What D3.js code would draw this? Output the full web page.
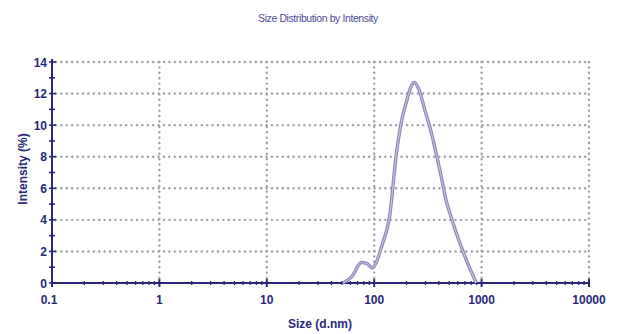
<!DOCTYPE html>
<html>
<head>
<meta charset="utf-8">
<script src="https://cdn.jsdelivr.net/npm/d3@7"></script>
<style>
    body { margin: 0; background: #fff; }
    svg { display: block; font-family: 'Liberation Sans', Arial, sans-serif; }
</style>
</head>
<body>
<svg id="chart"></svg>
<script>
// values
let sizes = [51, 62, 76, 87, 96, 106, 117, 139, 161, 179, 200, 219, 236, 263, 295, 335, 378, 422, 468, 525, 582, 646, 721, 803, 891];
let intensity = [0, 0.4, 1.3, 1.2, 0.95, 1.4, 2.3, 4.2, 8.2, 10.2, 11.5, 12.4, 12.7, 12.2, 11.0, 9.7, 8.2, 6.7, 5.2, 4.1, 3.15, 2.3, 1.45, 0.7, 0];
let xTicks = [0.1, 1, 10, 100, 1000, 10000];
let xTickLabels = ['0.1', '1', '10', '100', '1000', '10000'];
let yTicks = [0, 2, 4, 6, 8, 10, 12, 14];

let width = 633,
    height = 334;

let margin = {
    left: 52,
    right: 44,
    top: 62,
    bottom: 51
};

let navy = '#27277c';

let svg = d3.select('#chart')
    .attr('width', width)
    .attr('height', height);

let scaleX = d3.scaleLog()
    .domain([0.1, 10000])
    .range([margin.left, width - margin.right]);

let scaleY = d3.scaleLinear()
    .domain([0, 14])
    .range([height - margin.bottom, margin.top]);

// dotted grid
let grid = svg.append('g')
    .attr('stroke', '#9c9ca6')
    .attr('stroke-width', 2.4)
    .attr('stroke-linecap', 'round')
    .attr('stroke-dasharray', '0,5.4');

grid.selectAll('line.h')
    .data(yTicks.filter(d => d > 0))
    .enter()
    .append('line')
    .attr('class', 'h')
    .attr('x1', scaleX(0.1) + 4)
    .attr('x2', scaleX(10000))
    .attr('y1', d => scaleY(d))
    .attr('y2', d => scaleY(d));

grid.selectAll('line.v')
    .data(xTicks.filter(d => d > 0.1))
    .enter()
    .append('line')
    .attr('class', 'v')
    .attr('x1', d => scaleX(d))
    .attr('x2', d => scaleX(d))
    .attr('y1', scaleY(14))
    .attr('y2', scaleY(0) - 3);

// x axis
let minorX = [];
xTicks.slice(0, -1).forEach(t => {
    for (let k = 2; k < 10; k++) minorX.push(t * k);
});

let xAxisG = svg.append('g')
    .attr('transform', `translate(0, ${scaleY(0)})`);

xAxisG.append('line')
    .attr('x1', scaleX(0.1))
    .attr('x2', scaleX(10000))
    .attr('stroke', navy)
    .attr('stroke-width', 2);

xAxisG.selectAll('line.minor')
    .data(minorX)
    .enter()
    .append('line')
    .attr('class', 'minor')
    .attr('x1', d => scaleX(d))
    .attr('x2', d => scaleX(d))
    .attr('y1', -2)
    .attr('y2', 2)
    .attr('stroke', navy)
    .attr('stroke-width', 1.3);

xAxisG.selectAll('line.major')
    .data(xTicks)
    .enter()
    .append('line')
    .attr('class', 'major')
    .attr('x1', d => scaleX(d))
    .attr('x2', d => scaleX(d))
    .attr('y1', -4)
    .attr('y2', 4)
    .attr('stroke', navy)
    .attr('stroke-width', 2);

xAxisG.selectAll('text')
    .data(xTicks)
    .enter()
    .append('text')
    .attr('x', (d, i) => scaleX(d) + (i == 0 ? -3 : 0))
    .attr('y', 21)
    .attr('text-anchor', 'middle')
    .attr('fill', navy)
    .attr('font-size', 12)
    .attr('font-weight', 'bold')
    .text((d, i) => xTickLabels[i]);

// y axis
let yAxisG = svg.append('g')
    .attr('transform', `translate(${scaleX(0.1)}, 0)`);

yAxisG.append('line')
    .attr('y1', scaleY(0))
    .attr('y2', scaleY(14) - 3)
    .attr('stroke', navy)
    .attr('stroke-width', 2);

yAxisG.selectAll('line.tick')
    .data(d3.range(0, 15))
    .enter()
    .append('line')
    .attr('class', 'tick')
    .attr('x1', -3)
    .attr('x2', d => d % 2 == 0 ? 4 : 3)
    .attr('y1', d => scaleY(d))
    .attr('y2', d => scaleY(d))
    .attr('stroke', navy)
    .attr('stroke-width', 1.6);

yAxisG.selectAll('text')
    .data(yTicks)
    .enter()
    .append('text')
    .attr('x', -5)
    .attr('y', d => scaleY(d) + 4.5)
    .attr('text-anchor', 'end')
    .attr('fill', navy)
    .attr('font-size', 12)
    .attr('font-weight', 'bold')
    .text(d => d);

// the distribution curve
let data = sizes.map((s, i) => ({ size: s, value: intensity[i] }));

let line = d3.line()
    .x(d => scaleX(d.size))
    .y(d => scaleY(d.value))
    .curve(d3.curveMonotoneX);

svg.append('path')
    .datum(data)
    .attr('d', line)
    .attr('fill', 'none')
    .attr('stroke', '#8a87b6')
    .attr('stroke-width', 3.4);

svg.append('path')
    .datum(data)
    .attr('d', line)
    .attr('fill', 'none')
    .attr('stroke', '#c4c2dc')
    .attr('stroke-width', 1.2);

// titles
svg.append('text')
    .attr('x', 318)
    .attr('y', 22)
    .attr('text-anchor', 'middle')
    .attr('fill', '#4d4a9a')
    .attr('font-size', 10.5)
    .attr('letter-spacing', -0.4)
    .text('Size Distribution by Intensity');

svg.append('text')
    .attr('x', 320)
    .attr('y', 328)
    .attr('text-anchor', 'middle')
    .attr('fill', navy)
    .attr('font-size', 12)
    .attr('font-weight', 'bold')
    .text('Size (d.nm)');

svg.append('text')
    .attr('transform', 'translate(27, 169) rotate(-90)')
    .attr('text-anchor', 'middle')
    .attr('fill', navy)
    .attr('font-size', 12)
    .attr('font-weight', 'bold')
    .text('Intensity (%)');
</script>
</body>
</html>
